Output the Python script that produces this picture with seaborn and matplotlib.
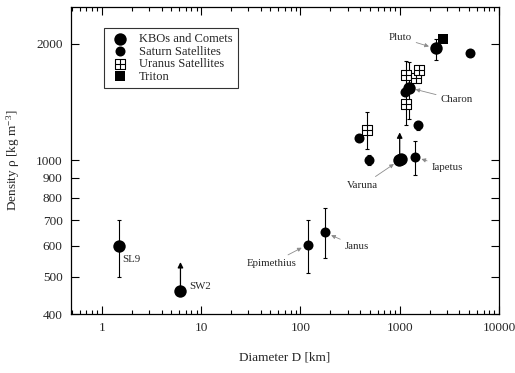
import numpy as np
import pandas as pd
import matplotlib
matplotlib.use("Agg")
import matplotlib.pyplot as plt
from matplotlib.path import Path
import seaborn as sns

# ---------------- data ----------------
# KBOs and comets (large filled circles)
kbo_names = ["SL9", "SW2", "Varuna a", "Varuna b", "Charon", "Pluto"]
kbo_D = [1.5, 6.2, 975, 1025, 1232, 2300]
kbo_rho = [600, 460, 998, 1006, 1540, 1945]

# Saturn satellites (smaller filled circles)
sat_names = ["Epimethius", "Janus", "Mimas", "Enceladus", "Iapetus", "Rhea", "Dione", "Titan"]
sat_D = [119, 176, 388, 490, 1420, 1520, 1122, 5060]
sat_rho = [605, 650, 1140, 1000, 1020, 1230, 1500, 1890]

# Uranus satellites (open squares with cross)
ura_names = ["Miranda", "Ariel", "Umbriel", "Oberon", "Titania"]
ura_D = [468, 1148, 1152, 1452, 1552]
ura_rho = [1200, 1400, 1665, 1635, 1715]

# Triton (filled square)
tri_D = [2705]
tri_rho = [2060]

# error bars: diameter, centre, lower, upper
err_D = [1.5, 119, 176, 490, 468, 1420, 1520, 1148, 1232, 1452, 1552, 2300]
err_c = [600, 605, 650, 1000, 1200, 1020, 1230, 1400, 1540, 1635, 1715, 1945]
err_lo = [500, 510, 560, 970, 1070, 915, 1195, 1230, 1280, 1600, 1680, 1820]
err_hi = [700, 700, 750, 1030, 1335, 1120, 1265, 1800, 1790, 1670, 1750, 2060]

# lower-limit arrows: diameter, from, to
lim_D = [6.2, 1000]
lim_from = [460, 1000]
lim_to = [545, 1180]

# labels: text, text x, text y, target x, target y (None = no arrow), ha
labels = [
    ("SL9", 1.62, 553, None, None, "left"),
    ("SW2", 7.6, 471, None, None, "left"),
    ("Epimethius", 92, 541, 119, 605, "right"),
    ("Janus", 280, 598, 176, 650, "left"),
    ("Varuna", 425, 862, 1000, 1000, "center"),
    ("Iapetus", 2100, 957, 1420, 1020, "left"),
    ("Charon", 2585, 1432, 1232, 1540, "left"),
    ("Pluto", 1318, 2075, 2300, 1945, "right"),
]

xticks = [1, 10, 100, 1000, 10000]
yticks = [400, 500, 600, 700, 800, 900, 1000, 2000]

# ---------------- style ----------------
sns.set_theme(style="ticks")
plt.rcParams["font.family"] = ["Liberation Serif", "DejaVu Serif"]
plt.rcParams["mathtext.fontset"] = "custom"
plt.rcParams["mathtext.rm"] = "Liberation Serif"
plt.rcParams["mathtext.it"] = "Liberation Serif:italic"

fig = plt.figure(figsize=(5.15, 3.73), dpi=100)
ax = fig.add_axes([71 / 515, 59 / 373, 428 / 515, 307 / 373])

# custom marker: square with cross
sq = Path([(-1, -1), (1, -1), (1, 1), (-1, 1), (-1, -1), (0, -1), (0, 1), (-1, 0), (1, 0)],
          [Path.MOVETO, Path.LINETO, Path.LINETO, Path.LINETO, Path.CLOSEPOLY,
           Path.MOVETO, Path.LINETO, Path.MOVETO, Path.LINETO])

# error bars
ax.errorbar(err_D, err_c,
            yerr=[np.array(err_c) - np.array(err_lo), np.array(err_hi) - np.array(err_c)],
            fmt="none", ecolor="black", elinewidth=0.8, capsize=1.5, capthick=0.8, zorder=2)

# limit arrows
for d, a, b in zip(lim_D, lim_from, lim_to):
    ax.annotate("", xy=(d, b), xytext=(d, a),
                arrowprops=dict(arrowstyle="-|>", color="black", lw=0.9,
                                mutation_scale=8, shrinkA=0, shrinkB=0), zorder=2)

kbo = pd.DataFrame({"D": kbo_D, "rho": kbo_rho})
sat = pd.DataFrame({"D": sat_D, "rho": sat_rho})
ura = pd.DataFrame({"D": ura_D, "rho": ura_rho})
tri = pd.DataFrame({"D": tri_D, "rho": tri_rho})

sns.scatterplot(data=kbo, x="D", y="rho", ax=ax, marker="o", s=80, color="black",
                edgecolor="black", linewidth=0, label="KBOs and Comets", zorder=3)
sns.scatterplot(data=sat, x="D", y="rho", ax=ax, marker="o", s=52, color="black",
                edgecolor="black", linewidth=0, label="Saturn Satellites", zorder=3)
sns.scatterplot(data=ura, x="D", y="rho", ax=ax, marker=sq, s=52, facecolor="white",
                edgecolor="black", linewidth=0.8, label="Uranus Satellites", zorder=3)
sns.scatterplot(data=tri, x="D", y="rho", ax=ax, marker="s", s=52, color="black",
                edgecolor="black", linewidth=0, label="Triton", zorder=3)

# labels
for txt, tx, ty, px, py, ha in labels:
    if px is None:
        ax.text(tx, ty, txt, ha=ha, va="center", fontsize=7.8)
    else:
        ax.annotate(txt, xy=(px, py), xytext=(tx, ty), ha=ha, va="center", fontsize=7.8,
                    arrowprops=dict(arrowstyle="-|>", color="0.55", lw=0.6,
                                    mutation_scale=6, shrinkA=1, shrinkB=5))

ax.set_xscale("log")
ax.set_yscale("log")
ax.set_xlim(0.49, 10000)
ax.set_ylim(400, 2490)
ax.set_xticks(xticks)
ax.set_xticklabels([str(t) for t in xticks])
ax.set_yticks(yticks)
ax.set_yticklabels([str(t) for t in yticks])
ax.yaxis.set_minor_locator(matplotlib.ticker.NullLocator())
ax.xaxis.set_minor_locator(matplotlib.ticker.LogLocator(base=10, subs=np.arange(2, 10)))
ax.xaxis.set_minor_formatter(matplotlib.ticker.NullFormatter())

ax.tick_params(which="both", direction="in", top=True, right=True, color="black",
               labelsize=9.5, pad=6)
ax.tick_params(which="major", length=6, width=0.8)
ax.tick_params(which="minor", length=3, width=0.8)
for s in ax.spines.values():
    s.set_linewidth(0.9)
    s.set_color("black")

ax.set_xlabel("Diameter D [km]", fontsize=9.5, labelpad=12)
ax.set_ylabel(r"Density ρ [kg m$^{-3}$]", fontsize=9.5, labelpad=10)

leg = ax.legend(loc="upper left", bbox_to_anchor=(0.077, 0.932), borderaxespad=0,
                frameon=True, fancybox=False, edgecolor="black", fontsize=9,
                labelspacing=0.05, handletextpad=0.6, borderpad=0.4, handlelength=1.8)
leg.get_frame().set_linewidth(0.8)

fig.savefig("out.png", dpi=100)
